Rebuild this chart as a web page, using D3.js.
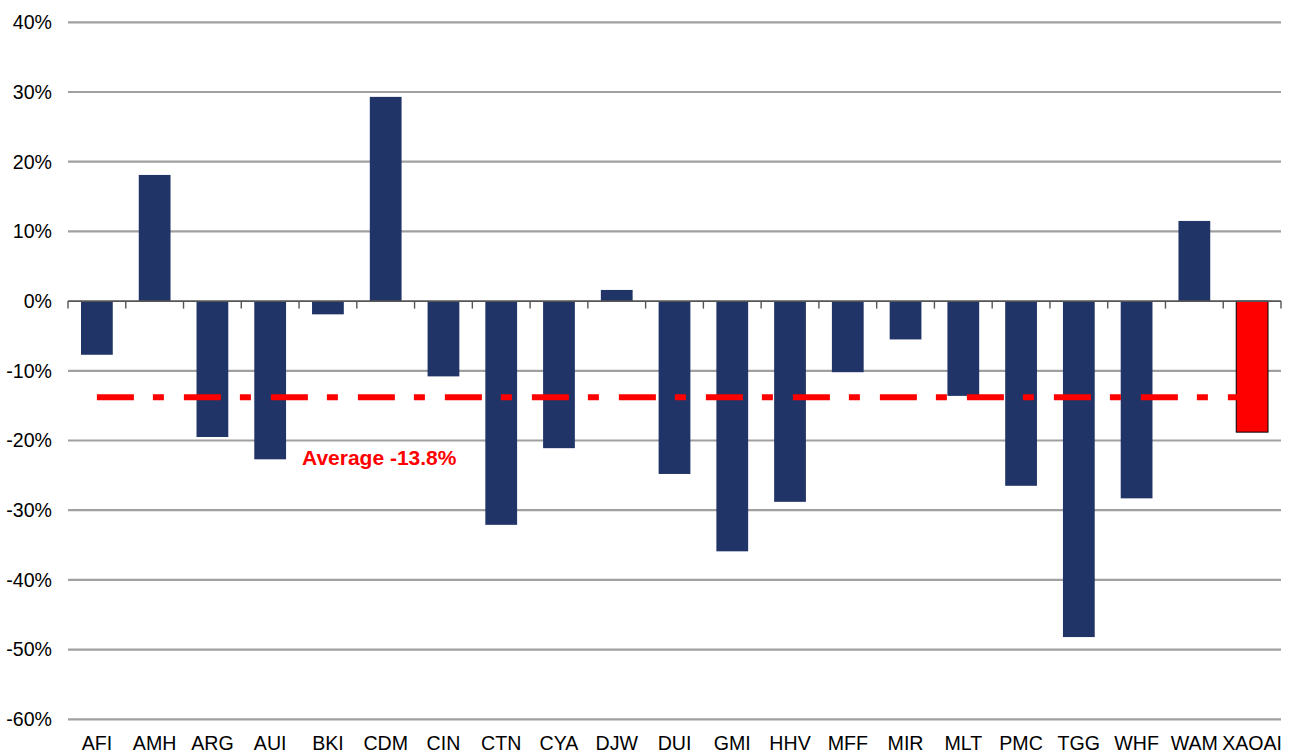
<!DOCTYPE html>
<html><head><meta charset="utf-8">
<script src="https://cdn.jsdelivr.net/npm/d3@7"></script>
<style>body{margin:0;background:#fff}svg{display:block}text{font-family:Arial,"Liberation Sans",sans-serif}</style>
</head><body><svg id="c" width="1290" height="756"></svg>
<script>
const categories = ["AFI","AMH","ARG","AUI","BKI","CDM","CIN","CTN","CYA","DJW","DUI","GMI","HHV","MFF","MIR","MLT","PMC","TGG","WHF","WAM","XAOAI"];
const values = [-7.7,18.1,-19.5,-22.7,-1.9,29.3,-10.8,-32.1,-21.1,1.6,-24.8,-35.9,-28.8,-10.2,-5.5,-13.6,-26.5,-48.2,-28.3,11.5,-18.8];
const highlight = ["XAOAI"];
const average = -13.8;
const yTicks = [40,30,20,10,0,-10,-20,-30,-40,-50,-60];

(function(){
const svg = d3.select("#c");
const pL = 68, pR = 1281, pT = 22.3, pB = 719.3;
const x = d3.scaleBand().domain(categories).range([pL, pR]).paddingInner(0.45).paddingOuter(0.225);
const y = d3.scaleLinear().domain([40,-60]).range([pT, pB]);

// gridlines
svg.append("g").selectAll("line").data(yTicks.filter(d=>d!==0)).join("line")
  .attr("x1", pL).attr("x2", pR).attr("y1", d=>y(d)).attr("y2", d=>y(d))
  .attr("stroke", "#a0a0a0").attr("stroke-width", 2.2);

// y labels
svg.append("g").selectAll("text").data(yTicks).join("text")
  .attr("x", 52).attr("y", d=>y(d)).attr("dy","0.35em").attr("text-anchor","end")
  .attr("font-size", 19.6).attr("fill","#000").text(d=>d+"%");

// bars
svg.append("g").selectAll("rect").data(categories.map((c,i)=>({c, v: values[i]}))).join("rect")
  .attr("x", d=>x(d.c)).attr("width", x.bandwidth())
  .attr("y", d=>y(Math.max(0,d.v))).attr("height", d=>Math.abs(y(d.v)-y(0)))
  .attr("fill", d=>highlight.includes(d.c) ? "#ff0000" : "#213467")
  .attr("stroke", d=>highlight.includes(d.c) ? "#000" : "none").attr("stroke-width", 1);

// zero axis line + ticks
const bounds = categories.map(c=>x(c) - x.step()*x.paddingInner()/2).concat([pR]);
svg.append("line").attr("x1", pL).attr("x2", pR).attr("y1", y(0)).attr("y2", y(0))
  .attr("stroke", "#555").attr("stroke-width", 1.6);
svg.append("g").selectAll("line").data(bounds).join("line")
  .attr("x1", d=>d).attr("x2", d=>d).attr("y1", y(0)).attr("y2", y(0)+7.5)
  .attr("stroke", "#555").attr("stroke-width", 1.4);

// average line
const first = categories[0], last = categories[categories.length-1];
svg.append("line")
  .attr("x1", x(first)+x.bandwidth()/2).attr("x2", x(last)+x.bandwidth()/2)
  .attr("y1", y(average)).attr("y2", y(average))
  .attr("stroke", "#ff0000").attr("stroke-width", 6).attr("stroke-dasharray", "37,19,11,20");
svg.append("text").attr("x", 302).attr("y", 465).attr("font-size", 21).attr("font-weight","bold")
  .attr("fill","#ff0000").text("Average " + average.toFixed(1) + "%");

// x labels
svg.append("g").selectAll("text").data(categories).join("text")
  .attr("x", d=>x(d)+x.bandwidth()/2).attr("y", 750).attr("text-anchor","middle")
  .attr("font-size", 19.6).attr("fill","#000").text(d=>d);
})();
</script></body></html>
